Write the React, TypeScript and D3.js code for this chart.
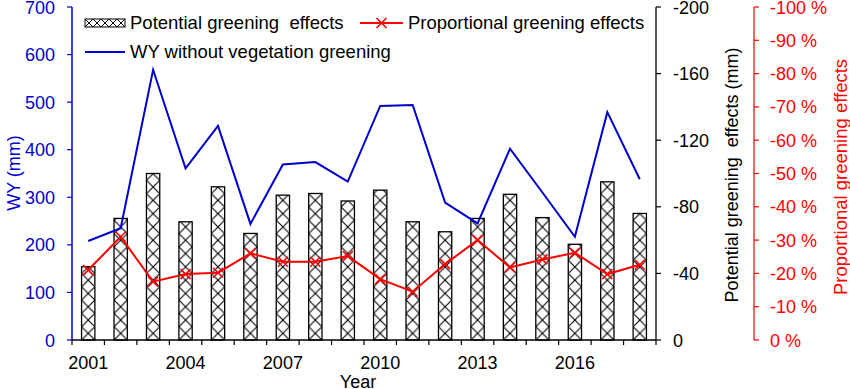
import React from "react";
import * as d3 from "d3";

const years = d3.range(2001, 2019).map(String);
const yearLabels = ["2001", "2004", "2007", "2010", "2013", "2016"];
const potentialEffects = [-44, -73, -100, -71, -92, -64, -87, -88, -83.5, -90, -71, -65, -73, -87.5, -73.5, -57.5, -95, -76];
const wyWithout = [208, 235, 568, 361, 450, 244, 369, 374, 333, 492, 494, 289, 245, 402, 310, 217, 479, 338];
const proportional = [-21, -31, -17.5, -19.8, -20.2, -26, -23.5, -23.5, -25.2, -18.3, -14.5, -22.8, -30, -21.8, -24.2, -26.2, -19.8, -22.6];
const leftTicks = [0, 100, 200, 300, 400, 500, 600, 700];
const rightTicks = [0, -40, -80, -120, -160, -200];
const redTicks = d3.range(0, -101, -10);

const BLUE = "#0000cc";
const RED = "#ff0000";
const FONT = "Liberation Sans, Arial, sans-serif";

const W = 850;
const H = 389;
const plot = { left: 72, right: 656, top: 7, bottom: 340 };
const redAxisX = 754;

const App: React.FC = () => {
  const x = d3.scaleBand<string>().domain(years).range([plot.left, plot.right]).paddingInner(0).paddingOuter(0);
  const yLeft = d3.scaleLinear().domain([0, 700]).range([plot.bottom, plot.top]);
  const yRight = d3.scaleLinear().domain([0, -200]).range([plot.bottom, plot.top]);
  const yRed = d3.scaleLinear().domain([0, -100]).range([plot.bottom, plot.top]);
  const bw = x.bandwidth() * 0.41;
  const cx = (yr: string) => (x(yr) as number) + x.bandwidth() / 2;

  const wyLine = d3.line<number>().x((_, i) => cx(years[i])).y((d) => yLeft(d))(wyWithout) || "";
  const redLine = d3.line<number>().x((_, i) => cx(years[i])).y((d) => yRed(d))(proportional) || "";

  const boundaries = [...years.map((yr) => x(yr) as number), plot.right];

  const crossMark = (px: number, py: number, key: React.Key, s = 5) => (
    <g key={key} stroke={RED} strokeWidth={1.6}>
      <line x1={px - s} y1={py - s} x2={px + s} y2={py + s} />
      <line x1={px - s} y1={py + s} x2={px + s} y2={py - s} />
    </g>
  );

  return (
    <svg width={W} height={H} style={{ position: "absolute", left: 0, top: 0, background: "#fff" }} fontFamily={FONT}>
      <defs>
        {years.map((yr, i) => (
          <pattern
            key={yr}
            id={`hatch${i}`}
            patternUnits="userSpaceOnUse"
            x={cx(yr) - bw / 2}
            y={plot.bottom}
            width={bw}
            height={bw}
          >
            <rect width={bw} height={bw} fill="#fff" />
            <line x1={0} y1={0} x2={bw} y2={bw} stroke="#000" strokeWidth={1.1} />
            <line x1={bw} y1={0} x2={0} y2={bw} stroke="#000" strokeWidth={1.1} />
          </pattern>
        ))}
        <pattern id="hatchLegend" patternUnits="userSpaceOnUse" x={85} y={19} width={8} height={8}>
          <rect width={8} height={8} fill="#fff" />
          <line x1={0} y1={0} x2={8} y2={8} stroke="#000" strokeWidth={1} />
          <line x1={8} y1={0} x2={0} y2={8} stroke="#000" strokeWidth={1} />
        </pattern>
      </defs>

      {/* bars */}
      {years.map((yr, i) => (
        <rect
          key={yr}
          x={cx(yr) - bw / 2}
          y={yRight(potentialEffects[i])}
          width={bw}
          height={plot.bottom - yRight(potentialEffects[i])}
          fill={`url(#hatch${i})`}
          stroke="#000"
          strokeWidth={1.3}
        />
      ))}

      {/* WY line */}
      <path d={wyLine} fill="none" stroke={BLUE} strokeWidth={2} />

      {/* proportional line */}
      <path d={redLine} fill="none" stroke={RED} strokeWidth={2} />
      {proportional.map((v, i) => crossMark(cx(years[i]), yRed(v), i))}

      {/* x axis */}
      <line x1={plot.left} x2={plot.right} y1={plot.bottom} y2={plot.bottom} stroke="#000" strokeWidth={1.5} />
      {boundaries.map((bx, i) => (
        <line key={i} x1={bx} x2={bx} y1={plot.bottom} y2={plot.bottom + 5} stroke="#000" strokeWidth={1.2} />
      ))}
      {yearLabels.map((yr) => (
        <text key={yr} x={cx(yr)} y={369} textAnchor="middle" fontSize={18} fill="#000">
          {yr}
        </text>
      ))}
      <text x={358} y={388} textAnchor="middle" fontSize={18} fill="#000">Year</text>

      {/* left axis */}
      <line x1={plot.left} x2={plot.left} y1={plot.top} y2={plot.bottom} stroke={BLUE} strokeWidth={1.5} />
      {leftTicks.map((t) => (
        <g key={t}>
          <line x1={plot.left - 5} x2={plot.left} y1={yLeft(t)} y2={yLeft(t)} stroke={BLUE} strokeWidth={1.2} />
          <text x={55} y={yLeft(t) + 6.5} textAnchor="end" fontSize={18} fill={BLUE}>{t}</text>
        </g>
      ))}
      <text transform={`translate(20,173) rotate(-90)`} textAnchor="middle" fontSize={18} fill={BLUE}>WY (mm)</text>

      {/* right black axis */}
      <line x1={plot.right} x2={plot.right} y1={plot.top} y2={plot.bottom} stroke="#000" strokeWidth={1.3} />
      {rightTicks.map((t) => (
        <g key={t}>
          <line x1={plot.right} x2={plot.right + 5} y1={yRight(t)} y2={yRight(t)} stroke="#000" strokeWidth={1.2} />
          <text x={673} y={yRight(t) + 6.5} fontSize={18} fill="#000">{t}</text>
        </g>
      ))}
      <text transform={`translate(738,175) rotate(-90)`} textAnchor="middle" fontSize={18} fill="#000" style={{ whiteSpace: "pre" }}>
        {"Potential greening  effects (mm)"}
      </text>

      {/* red axis */}
      <line x1={redAxisX} x2={redAxisX} y1={plot.top} y2={plot.bottom} stroke={RED} strokeWidth={1.2} />
      {redTicks.map((t) => (
        <g key={t}>
          <line x1={redAxisX} x2={redAxisX + 5} y1={yRed(t)} y2={yRed(t)} stroke={RED} strokeWidth={1.2} />
          <text x={770} y={yRed(t) + 6.5} fontSize={18} fill={RED}>{`${t} %`}</text>
        </g>
      ))}
      <text transform={`translate(847,177) rotate(-90)`} textAnchor="middle" fontSize={18.5} fill={RED}>
        Proportional greening effects
      </text>

      {/* legend */}
      <rect x={85} y={19} width={40} height={8} fill="url(#hatchLegend)" stroke="#000" strokeWidth={1} />
      <text x={130} y={29} fontSize={18.5} fill="#000" style={{ whiteSpace: "pre" }}>{"Potential greening  effects"}</text>
      <line x1={360} x2={403} y1={23} y2={23} stroke={RED} strokeWidth={2} />
      {crossMark(381.5, 23, "lg", 5)}
      <text x={408} y={29} fontSize={18.5} fill="#000">Proportional greening effects</text>
      <line x1={85} x2={125} y1={52} y2={52} stroke={BLUE} strokeWidth={2} />
      <text x={130} y={58} fontSize={18.5} fill="#000">WY without vegetation greening</text>
    </svg>
  );
};

export default App;
